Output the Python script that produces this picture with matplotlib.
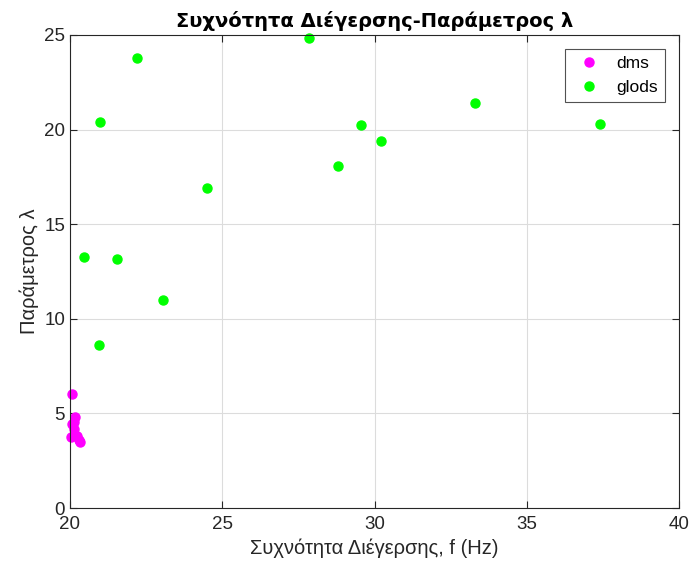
import matplotlib.pyplot as plt

plt.rcParams['font.family'] = ['Liberation Sans', 'DejaVu Sans']

# dms cluster near 20 Hz
dms_f = [20.07, 20.18, 20.12, 20.05, 20.12, 20.03, 20.22, 20.3, 20.33]
dms_l = [6.02, 4.82, 4.56, 4.45, 4.2, 3.77, 3.78, 3.62, 3.5]

glods_f = [22.2, 27.85, 21.0, 33.3, 37.4, 29.55, 30.2, 28.8, 24.5, 20.45, 21.55, 23.05, 20.95]
glods_l = [23.8, 24.85, 20.4, 21.4, 20.3, 20.25, 19.4, 18.1, 16.9, 13.25, 13.15, 11.0, 8.6]

fig = plt.figure(figsize=(6.93, 5.79), dpi=100)
ax = fig.add_axes([0.101, 0.1226, 0.879, 0.817])

ax.plot(dms_f, dms_l, 'o', color='#ff00ff', markersize=6.5, label='dms', clip_on=False)
ax.plot(glods_f, glods_l, 'o', color='#00ff00', markersize=6.5, label='glods', clip_on=False)

ax.set_xlim(20, 40)
ax.set_ylim(0, 25)
ax.set_xticks([20, 25, 30, 35, 40])
ax.set_yticks([0, 5, 10, 15, 20, 25])
ax.grid(True, color='#dcdcdc', linewidth=0.8)
ax.set_axisbelow(True)
ax.tick_params(direction='in', labelsize=13.5, colors='#262626', length=5, top=True, right=True,
               labeltop=False, labelright=False)
ax.tick_params(axis='x', pad=6)
for s in ax.spines.values():
    s.set_color('#262626')
    s.set_linewidth(0.8)

ax.set_xlabel('Συχνότητα Διέγερσης, f (Hz)', fontsize=14.5, color='#262626')
ax.set_ylabel('Παράμετρος λ', fontsize=14.5, color='#262626')
ax.set_title('Συχνότητα Διέγερσης-Παράμετρος λ', fontsize=14, fontweight='bold', pad=6,
             family=['DejaVu Sans'])

leg = ax.legend(loc='upper right', fontsize=12.5, frameon=True, fancybox=False,
                edgecolor='#262626', borderaxespad=0.8, handletextpad=0.6)
leg.get_frame().set_linewidth(0.8)

plt.savefig('out.png', dpi=100)
